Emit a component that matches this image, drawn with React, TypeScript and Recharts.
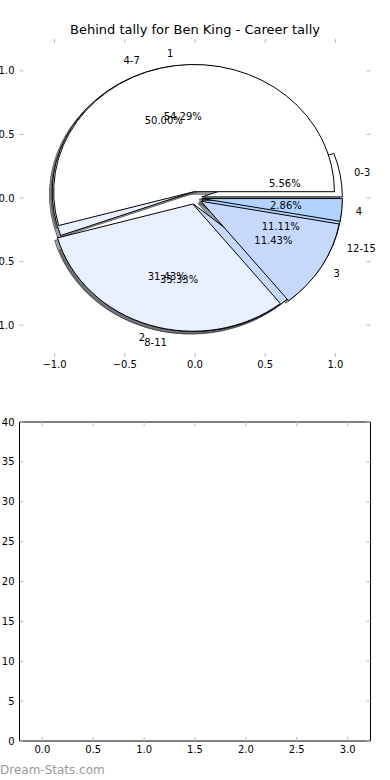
import React from "react";
import { PieChart, Pie, ScatterChart, Scatter, XAxis, YAxis } from "recharts";

// score bands and "behind by" tallies for the two overlaid pies
const scoreBands = ["0-3", "4-7", "8-11", "12-15"];
const scoreBandCounts = [1, 9, 6, 2];
const behindBy = ["1", "2", "3", "4"];
const behindByCounts = [19, 11, 4, 1];
const sliceColors = ["#ffffff", "#e9f0fd", "#c6d9fd", "#b3d3ff"];

const pieTicks = [-1, -0.5, 0, 0.5, 1];
const pieLimits = [-1.25, 1.25];
const xTicks = [0, 0.5, 1, 1.5, 2, 2.5, 3];
const xLimits = [-0.225, 3.225];
const yTicks = [0, 5, 10, 15, 20, 25, 30, 35, 40];
const yLimits = [0, 40];

const FONT = "DejaVu Sans";
const TICK_GREY = "#b8b8b8";
const W = 390;
const PLOT_L = 19.5;
const PLOT_W = 351;
const TOP_H = 400;
const TOP_PLOT_T = 39;
const TOP_PLOT_H = 318;
const RX = PLOT_W / 2 / 1.25;
const KY = TOP_PLOT_H / PLOT_W;
const EXPLODE = 0.05;
const SHADOW = 0.02;
const PCT_DIST = 0.6;
const LABEL_DIST = 1.1;
const RAD = Math.PI / 180;

const bandData = scoreBands.map((name, i) => ({ name, value: scoreBandCounts[i], fill: sliceColors[i] }));
const behindData = behindBy.map((name, i) => ({ name, value: behindByCounts[i], fill: sliceColors[i] }));

const fmt1 = (v: number) => (v < 0 ? "\u2212" : "") + Math.abs(v).toFixed(1);
const tickStyle = { fontSize: 10, fill: "#000", fontFamily: FONT };
const NoLabel = () => <g />;

function wedgePath(p: any, sx = 0, sy = 0) {
  const r = p.outerRadius;
  const ry = r * KY;
  const mid = (p.startAngle + p.endAngle) / 2;
  const ox = p.cx + EXPLODE * r * Math.cos(mid * RAD) + sx;
  const oy = p.cy - EXPLODE * ry * Math.sin(mid * RAD) + sy;
  const x1 = ox + r * Math.cos(p.startAngle * RAD);
  const y1 = oy - ry * Math.sin(p.startAngle * RAD);
  const x2 = ox + r * Math.cos(p.endAngle * RAD);
  const y2 = oy - ry * Math.sin(p.endAngle * RAD);
  const large = Math.abs(p.endAngle - p.startAngle) > 180 ? 1 : 0;
  const sweep = p.endAngle > p.startAngle ? 0 : 1;
  return `M${ox},${oy} L${x1},${y1} A${r},${ry} 0 ${large} ${sweep} ${x2},${y2} Z`;
}

function darker(hex: string) {
  const n = parseInt(hex.slice(1), 16);
  const c = [(n >> 16) & 255, (n >> 8) & 255, n & 255].map((v) => Math.round(v * 0.3));
  return `rgb(${c.join(",")})`;
}

const sliceFill = (p: any) => p.payload?.fill ?? p.fill ?? "#fff";

const Wedge = (p: any) => (
  <path d={wedgePath(p)} fill={sliceFill(p)} stroke="#000" strokeWidth={1} strokeLinejoin="round" />
);

const ShadowWedge = (p: any) => {
  const c = darker(sliceFill(p));
  return (
    <path
      d={wedgePath(p, -SHADOW * p.outerRadius, SHADOW * p.outerRadius * KY)}
      fill={c}
      fillOpacity={0.5}
      stroke={c}
      strokeOpacity={0.75}
    />
  );
};

const Empty = () => <g />;

const renderLabels = (p: any) => {
  const r = p.outerRadius;
  const ry = r * KY;
  const mid = (p.startAngle + p.endAngle) / 2;
  const c = Math.cos(mid * RAD);
  const s = Math.sin(mid * RAD);
  const name = p.payload?.name ?? p.name;
  return (
    <g key={`lab-${name}`}>
      <text
        x={p.cx + (LABEL_DIST + EXPLODE) * r * c}
        y={p.cy - (LABEL_DIST + EXPLODE) * ry * s}
        textAnchor={c > 0 ? "start" : "end"}
        dominantBaseline="central"
        fontSize={10}
        fontFamily={FONT}
        fill="#000"
      >
        {name}
      </text>
      <text
        x={p.cx + (PCT_DIST + EXPLODE) * r * c}
        y={p.cy - (PCT_DIST + EXPLODE) * ry * s}
        textAnchor="middle"
        dominantBaseline="central"
        fontSize={10}
        fontFamily={FONT}
        fill="#000"
      >
        {`${(p.percent * 100).toFixed(2)}%`}
      </text>
    </g>
  );
};

export default function App() {
  const cx = PLOT_L + PLOT_W / 2;
  const cy = TOP_PLOT_T + TOP_PLOT_H / 2;
  const pieProps = {
    cx,
    cy,
    innerRadius: 0,
    outerRadius: RX,
    dataKey: "value",
    nameKey: "name",
    startAngle: 0,
    endAngle: 360,
    stroke: "none",
    isAnimationActive: false,
  };

  return (
    <div style={{ position: "absolute", left: 0, top: 0, width: W, height: 780, background: "#fff", fontFamily: FONT }}>
      <div style={{ position: "absolute", left: PLOT_L, top: 22, width: PLOT_W, textAlign: "center", fontSize: 13, lineHeight: "15px", color: "#000" }}>
        Behind tally for Ben King - Career tally
      </div>

      {/* pie axes ticks, no frame */}
      <div style={{ position: "absolute", left: 0, top: 0 }}>
        <ScatterChart
          width={W}
          height={TOP_H}
          data={pieTicks.map((v) => ({ v }))}
          margin={{ top: TOP_PLOT_T - 1, right: W - PLOT_L - PLOT_W - 1, bottom: TOP_H - TOP_PLOT_T - TOP_PLOT_H - 30, left: 0 }}
        >
          <XAxis xAxisId="b" dataKey="v" type="number" orientation="bottom" domain={pieLimits} ticks={pieTicks} interval={0} allowDataOverflow
            height={30} tickSize={-4} tickMargin={8} axisLine={false} tickLine={{ stroke: TICK_GREY }} tick={tickStyle} tickFormatter={fmt1} />
          <XAxis xAxisId="t" dataKey="v" type="number" orientation="top" domain={pieLimits} ticks={pieTicks} interval={0} allowDataOverflow
            height={1} tickSize={-4} axisLine={false} tickLine={{ stroke: TICK_GREY }} tick={NoLabel} />
          <YAxis yAxisId="l" type="number" orientation="left" domain={pieLimits} ticks={pieTicks} interval={0} allowDataOverflow
            width={PLOT_L} tickSize={-4} tickMargin={9} axisLine={false} tickLine={{ stroke: TICK_GREY }} tick={tickStyle} tickFormatter={fmt1} />
          <YAxis yAxisId="r" type="number" orientation="right" domain={pieLimits} ticks={pieTicks} interval={0} allowDataOverflow
            width={1} tickSize={-4} axisLine={false} tickLine={{ stroke: TICK_GREY }} tick={NoLabel} />
        </ScatterChart>
      </div>

      <div style={{ position: "absolute", left: 0, top: 0 }}>
        <PieChart width={W} height={TOP_H} margin={{ top: 0, right: 0, bottom: 0, left: 0 }}>
          <Pie {...pieProps} data={bandData} shape={ShadowWedge} />
          <Pie {...pieProps} data={behindData} shape={ShadowWedge} />
          <Pie {...pieProps} data={bandData} shape={Wedge} />
          <Pie {...pieProps} data={behindData} shape={Wedge} />
          <Pie {...pieProps} data={bandData} shape={Empty} label={renderLabels} labelLine={false} />
          <Pie {...pieProps} data={behindData} shape={Empty} label={renderLabels} labelLine={false} />
        </PieChart>
      </div>

      {/* empty lower panel */}
      <div style={{ position: "absolute", left: 0, top: 400.5 }}>
        <ScatterChart width={W} height={370} margin={{ top: 20, right: W - PLOT_L - PLOT_W - 1, bottom: 0, left: 0 }}>
          <XAxis xAxisId="b" dataKey="x" type="number" orientation="bottom" domain={xLimits} ticks={xTicks} interval={0} allowDataOverflow
            height={30} tickSize={-4} tickMargin={9} axisLine={{ stroke: "#000" }} tickLine={{ stroke: TICK_GREY }} tick={tickStyle} tickFormatter={fmt1} />
          <XAxis xAxisId="t" dataKey="x" type="number" orientation="top" domain={xLimits} ticks={xTicks} interval={0} allowDataOverflow
            height={1} tickSize={-4} axisLine={{ stroke: "#000" }} tickLine={{ stroke: TICK_GREY }} tick={NoLabel} />
          <YAxis yAxisId="l" dataKey="y" type="number" orientation="left" domain={yLimits} ticks={yTicks} interval={0} allowDataOverflow
            width={PLOT_L} tickSize={-4} tickMargin={9} axisLine={{ stroke: "#000" }} tickLine={{ stroke: TICK_GREY }} tick={tickStyle} />
          <YAxis yAxisId="r" dataKey="y" type="number" orientation="right" domain={yLimits} ticks={yTicks} interval={0} allowDataOverflow
            width={1} tickSize={-4} axisLine={{ stroke: "#000" }} tickLine={{ stroke: TICK_GREY }} tick={NoLabel} />
          <Scatter xAxisId="b" yAxisId="l" data={[]} isAnimationActive={false} />
          <Scatter xAxisId="t" yAxisId="r" data={[]} isAnimationActive={false} />
        </ScatterChart>
      </div>

      <div style={{ position: "absolute", left: 0, top: 763, fontSize: 12, lineHeight: "14px", color: "#999" }}>
        Dream-Stats.com
      </div>
    </div>
  );
}
